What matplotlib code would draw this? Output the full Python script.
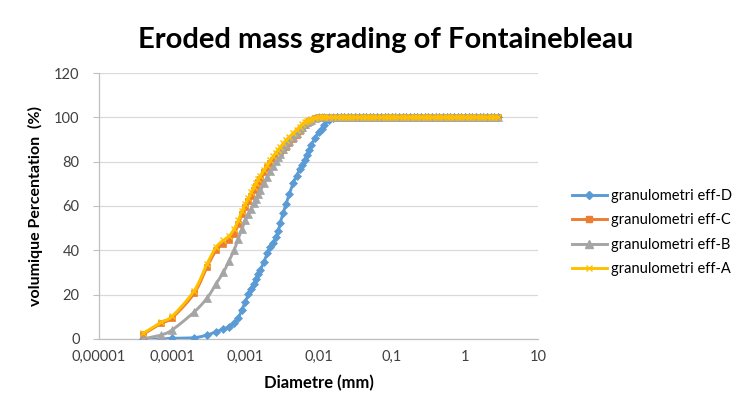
import numpy as np
import matplotlib
matplotlib.use("Agg")
import matplotlib.pyplot as plt
from matplotlib.ticker import FixedLocator, FixedFormatter, NullLocator

plt.rcParams['font.family'] = ['Lato', 'DejaVu Sans']

# ===================== data (diameter in mm, cumulative volume %) =====================
diam_rise = [0.00004, 0.00007, 0.0001, 0.0002, 0.0003, 0.0004, 0.0005, 0.0006, 0.0007,
             0.0008, 0.0009, 0.001, 0.0011, 0.0012, 0.0013, 0.0014, 0.0015, 0.0016,
             0.0018, 0.002, 0.0022, 0.0024, 0.0026, 0.0028, 0.003, 0.0033, 0.0036,
             0.004, 0.0045, 0.005, 0.0055, 0.006, 0.0065, 0.007, 0.0075, 0.008,
             0.009, 0.01, 0.011, 0.012, 0.014, 0.016, 0.018]
diam_flat = [0.02, 0.022, 0.025, 0.028, 0.032, 0.036, 0.04, 0.045, 0.05, 0.056, 0.063,
             0.071, 0.08, 0.09, 0.1, 0.112, 0.126, 0.142, 0.159, 0.178, 0.2, 0.224,
             0.252, 0.283, 0.317, 0.356, 0.399, 0.448, 0.502, 0.564, 0.632, 0.71,
             0.796, 0.893, 1.0, 1.125, 1.262, 1.416, 1.589, 1.783, 2.0, 2.244, 2.518, 2.825]
plateau = [100, 100, 100, 100, 100, 100, 100, 100, 100, 100, 100,
           100, 100, 100, 100, 100, 100, 100, 100, 100, 100, 100,
           100, 100, 100, 100, 100, 100, 100, 100, 100, 100,
           100, 100, 100, 100, 100, 100, 100, 100, 100, 100, 100, 100]

eff_D = [0.0, 0.0, 0.3, 0.6, 1.8, 3.3, 4.5, 5.6, 7.2,
         9.5, 13.3, 16.8, 20.1, 22.6, 24.8, 27.1, 29.3, 31.1,
         34.9, 38.8, 41.4, 43.4, 45.8, 48.5, 52.5, 57.0, 61.0,
         65.5, 70.5, 73.5, 76.5, 78.5, 80.8, 83.0, 85.3, 87.5,
         90.8, 93.3, 94.8, 96.6, 98.6, 99.6, 100]
eff_C = [2.1, 7.0, 9.6, 20.6, 32.6, 40.1, 43.0, 44.5, 47.3,
         51.7, 56.3, 59.6, 62.3, 64.7, 67.0, 69.0, 70.8, 72.4,
         75.2, 77.5, 79.4, 80.9, 82.2, 83.3, 84.2, 85.4, 86.6,
         88.2, 90.2, 92.0, 93.8, 95.3, 96.6, 97.6, 98.4, 99.0,
         99.7, 100, 100, 100, 100, 100, 100]
eff_B = [0.0, 1.8, 4.1, 12.2, 18.5, 25.0, 30.0, 35.3, 40.0,
         45.3, 49.8, 53.5, 56.5, 58.7, 61.2, 63.3, 65.2, 67.0,
         70.2, 73.0, 75.6, 78.0, 80.1, 82.0, 83.6, 85.6, 87.3,
         89.2, 91.2, 93.0, 94.6, 95.8, 96.8, 97.7, 98.4, 98.9,
         99.6, 100, 100, 100, 100, 100, 100]
eff_A = [2.5, 7.5, 10.3, 21.8, 34.0, 41.5, 44.5, 46.5, 49.5,
         53.5, 57.8, 61.0, 63.8, 66.2, 68.4, 70.3, 72.0, 73.6,
         76.3, 78.6, 80.6, 82.4, 84.0, 85.4, 86.6, 88.2, 89.7,
         91.2, 92.8, 94.4, 95.8, 96.9, 97.8, 98.5, 99.0, 99.4,
         99.9, 100, 100, 100, 100, 100, 100]

series = [
    ('granulometri eff-D', eff_D, '#5B9BD5', 'D', 4.2),
    ('granulometri eff-C', eff_C, '#ED7D31', 's', 4.8),
    ('granulometri eff-B', eff_B, '#A5A5A5', '^', 5.8),
    ('granulometri eff-A', eff_A, '#FFC000', 'x', 5.0),
]

tick_vals = [0.00001, 0.0001, 0.001, 0.01, 0.1, 1, 10]
tick_text = ['0,00001', '0,0001', '0,001', '0,01', '0,1', '1', '10']


def smooth_line(x, y, n=10):
    """Catmull-Rom smoothing in log-x space, like Excel's smoothed lines"""
    lx = np.log10(np.asarray(x, dtype=float))
    yy = np.asarray(y, dtype=float)
    pts = np.column_stack([lx, yy])
    out = []
    for i in range(len(pts) - 1):
        p0 = pts[max(i - 1, 0)]
        p1 = pts[i]
        p2 = pts[i + 1]
        p3 = pts[min(i + 2, len(pts) - 1)]
        t = np.linspace(0, 1, n, endpoint=False)[:, None]
        seg = 0.5 * ((2 * p1) + (-p0 + p2) * t + (2 * p0 - 5 * p1 + 4 * p2 - p3) * t ** 2
                     + (-p0 + 3 * p1 - 3 * p2 + p3) * t ** 3)
        out.append(seg)
    out.append(pts[-1:])
    out = np.vstack(out)
    return 10 ** out[:, 0], out[:, 1]


fig = plt.figure(figsize=(7.48, 4.04), dpi=100)
ax = fig.add_axes([0.1324, 0.1609, 0.5869, 0.6584])

diam = diam_rise + diam_flat
for label, vals, color, mk, ms in series:
    full = vals + plateau
    sx, sy = smooth_line(diam, full)
    ax.plot(sx, sy, color=color, lw=2.1, solid_capstyle='round', zorder=3)
    ax.plot(diam, full, linestyle='none', marker=mk, markersize=ms, color=color,
            markeredgewidth=1.0 if mk == 'x' else 0.5, zorder=3)
    # legend proxy
    ax.plot([], [], color=color, lw=2.1, marker=mk, markersize=ms, label=label)

ax.set_xscale('log')
ax.set_xlim(1e-5, 10)
ax.set_ylim(0, 120)
ax.xaxis.set_major_locator(FixedLocator(tick_vals))
ax.xaxis.set_major_formatter(FixedFormatter(tick_text))
ax.xaxis.set_minor_locator(NullLocator())
ax.set_yticks(range(0, 121, 20))

ax.grid(axis='y', color='#D9D9D9', lw=0.9)
ax.set_axisbelow(True)
for side in ['top', 'right']:
    ax.spines[side].set_visible(False)
for side in ['left', 'bottom']:
    ax.spines[side].set_color('#BFBFBF')
    ax.spines[side].set_linewidth(0.9)
ax.tick_params(axis='x', length=0, pad=8, labelsize=10.5, labelcolor='#404040')
ax.tick_params(axis='y', length=4, color='#BFBFBF', pad=10, labelsize=10.5, labelcolor='#404040')

ax.set_xlabel('Diametre (mm)', fontsize=12, fontweight='bold', labelpad=8)
ax.set_ylabel('volumique Percentation  (%)', fontsize=11.5, fontweight='bold', labelpad=8)
fig.text(0.515, 0.90, 'Eroded mass grading of Fontainebleau', ha='center', va='center',
         fontsize=21, fontweight='bold', color='black')

handles, labels = ax.get_legend_handles_labels()
fig.legend(handles, labels, loc='upper left', bbox_to_anchor=(0.747, 0.565),
           frameon=False, fontsize=10.5, handlelength=2.4, labelspacing=0.72,
           handletextpad=0.3)

fig.savefig('out.png', dpi=100)
